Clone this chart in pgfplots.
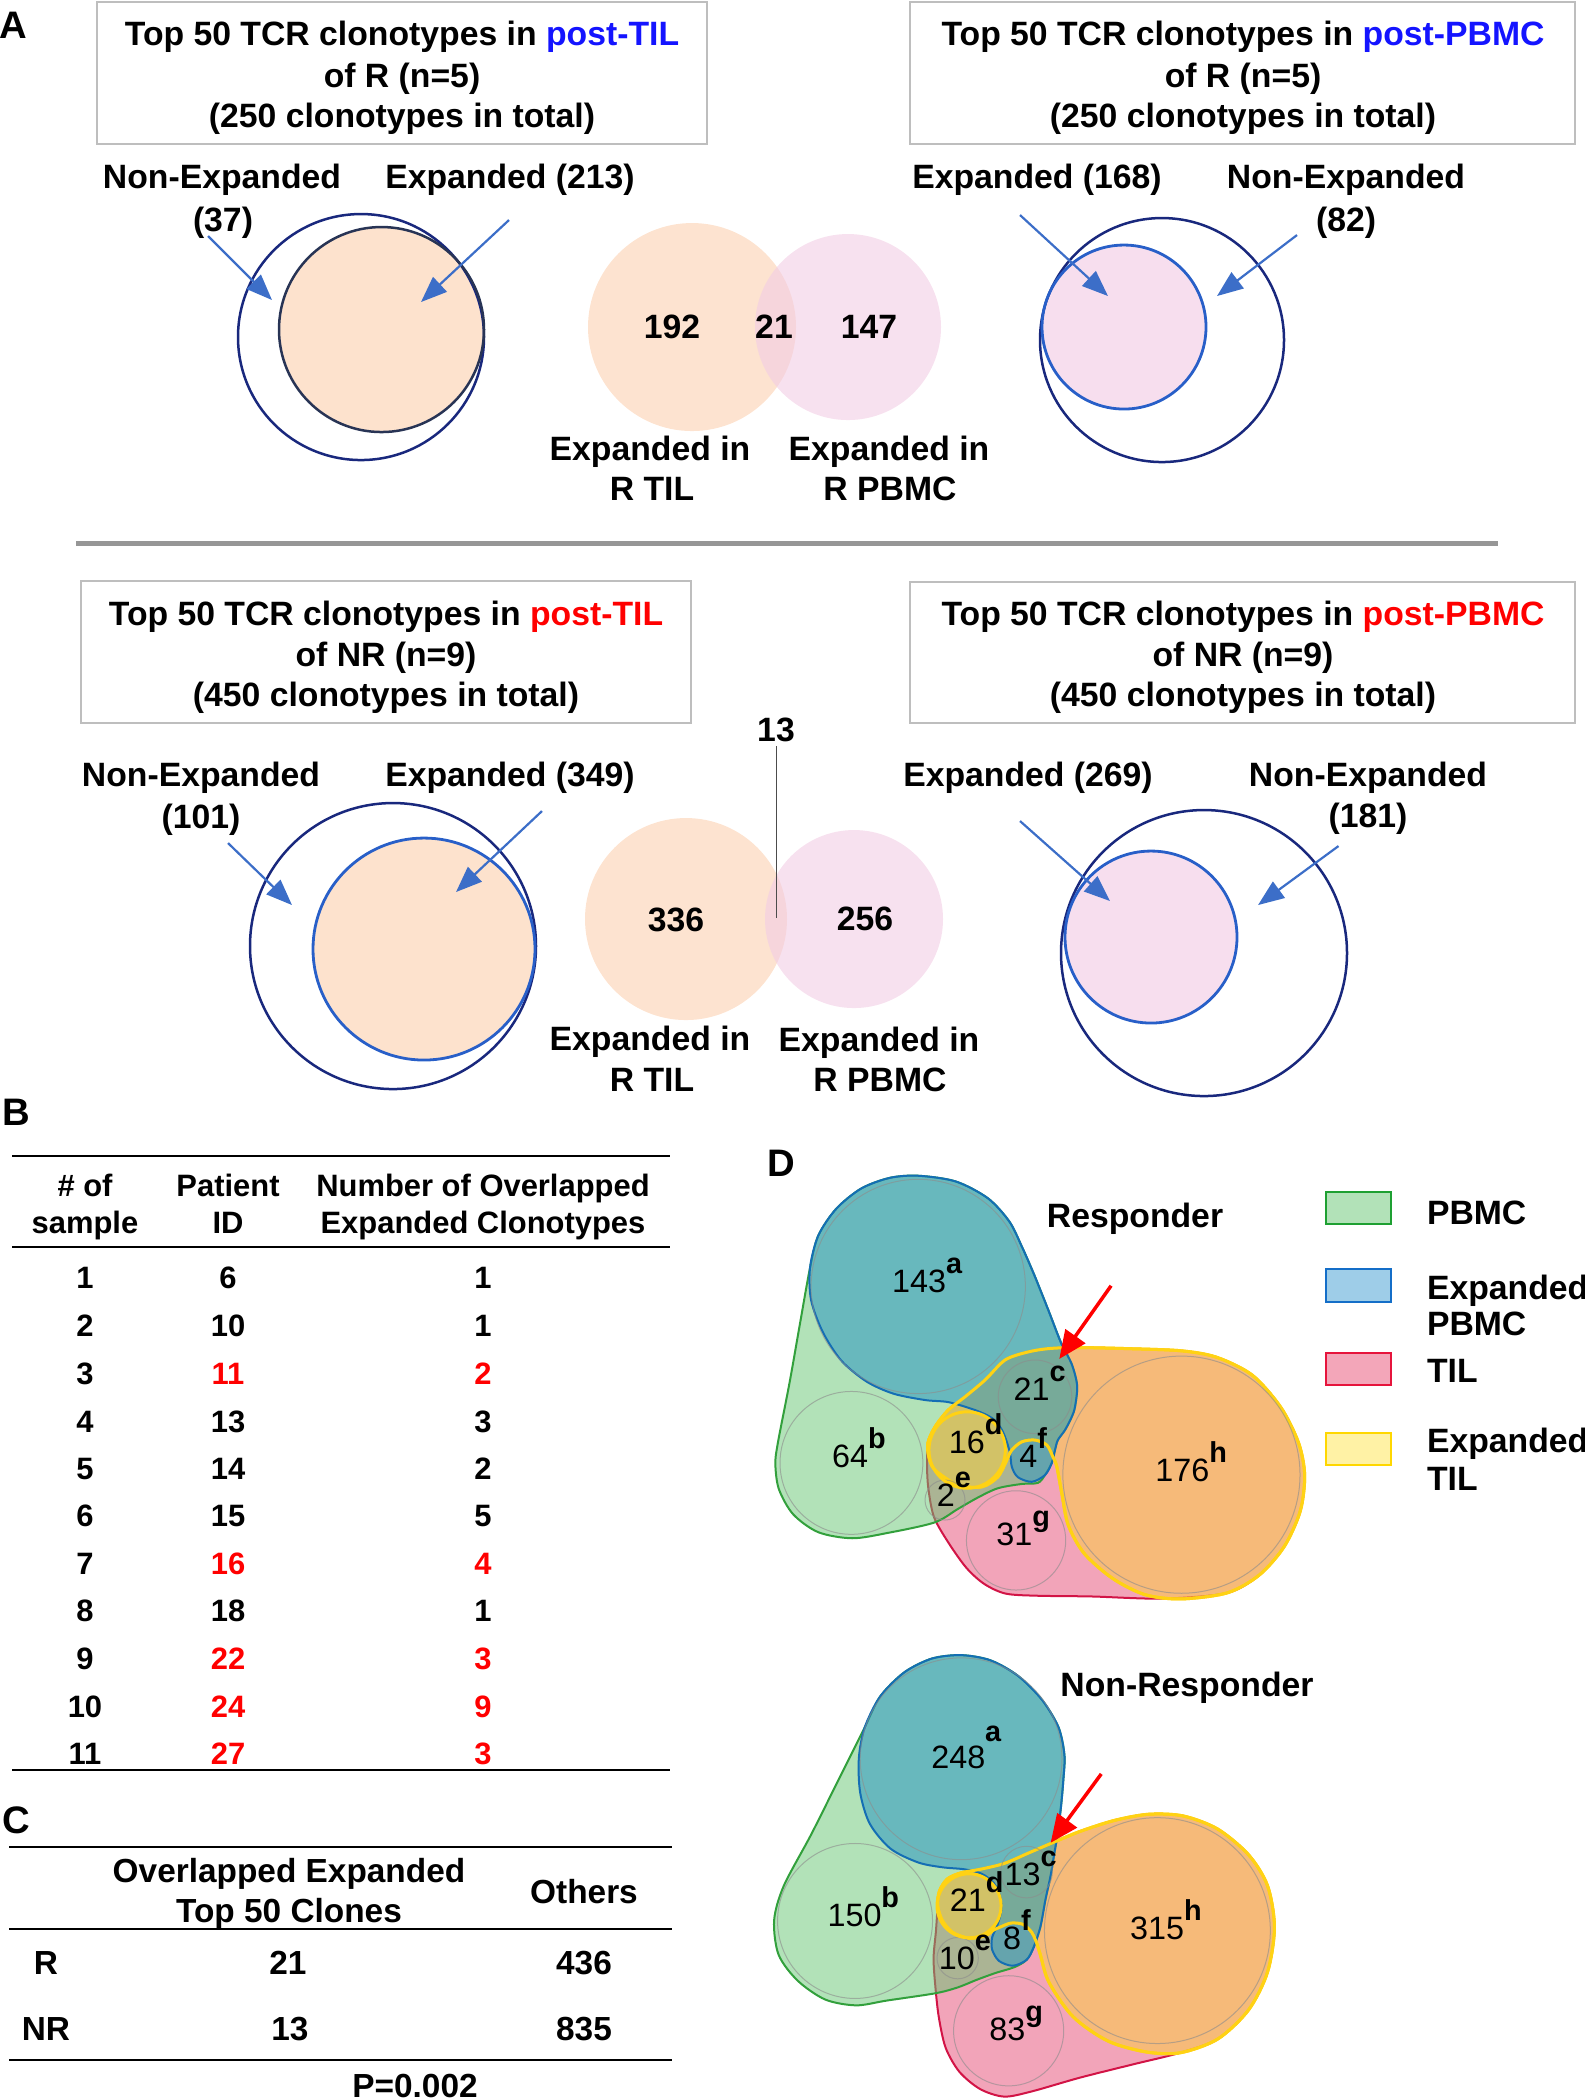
\documentclass[border=0pt]{standalone}
\usepackage{fontspec}
\setmainfont{Liberation Sans}
\usepackage{pgfplots}
\usepackage{pgfplotstable}
\pgfplotsset{compat=1.18}
\usetikzlibrary{arrows.meta}

\definecolor{tblue}{RGB}{20,20,255}
\definecolor{tred}{RGB}{255,0,0}
\definecolor{boxgray}{RGB}{190,190,190}
\definecolor{sepgray}{RGB}{150,150,150}
\definecolor{navy}{RGB}{25,40,125}
\definecolor{midblue}{RGB}{40,95,200}
\definecolor{arrowblue}{RGB}{60,110,200}
\definecolor{innerdark}{RGB}{40,52,85}
\definecolor{peach}{RGB}{253,226,205}
\definecolor{pinkc}{RGB}{247,222,238}
\definecolor{venpeach}{RGB}{253,227,208}
\definecolor{venpink}{RGB}{242,205,228}
% panel D
\definecolor{tilF}{RGB}{242,164,185}
\definecolor{pbmcF}{RGB}{101,197,113}
\definecolor{etilF}{RGB}{250,208,59}
\definecolor{epbF}{RGB}{45,151,195}
\definecolor{strG}{RGB}{50,160,60}
\definecolor{strB}{RGB}{20,110,180}
\definecolor{strR}{RGB}{210,20,70}
\definecolor{strY}{RGB}{255,210,20}
\definecolor{legG}{RGB}{178,226,184}
\definecolor{legGd}{RGB}{30,160,50}
\definecolor{legB}{RGB}{158,205,232}
\definecolor{legBd}{RGB}{20,110,200}
\definecolor{legR}{RGB}{243,166,185}
\definecolor{legRd}{RGB}{230,20,60}
\definecolor{legY}{RGB}{255,242,165}
\definecolor{legYd}{RGB}{255,215,0}

\newcommand{\fA}{\fontsize{9.6pt}{11pt}\selectfont\bfseries}
\newcommand{\fB}{\fontsize{8.8pt}{10pt}\selectfont\bfseries}
\newcommand{\fC}{\fontsize{9.5pt}{10pt}\selectfont\bfseries}
\newcommand{\fL}{\fontsize{10.9pt}{12pt}\selectfont\bfseries}
\newcommand{\fN}{\fontsize{9.2pt}{10pt}\selectfont}
\newcommand{\sps}[1]{\raisebox{5.4pt}{\fontsize{8.2pt}{8pt}\selectfont\bfseries #1}}
\tikzset{t/.style={anchor=base, inner sep=0pt, outer sep=0pt},
         tw/.style={anchor=base west, inner sep=0pt, outer sep=0pt}}

% ---------- Panel D hulls, Responder (crop coordinates, 2.8 units per px) ----------
\pgfplotstableread{
x y
442 820
440 900
445 960
460 1030
500 1100
550 1170
600 1215
660 1242
750 1248
900 1250
1100 1256
1280 1240
1370 1190
1440 1110
1485 1010
1497 910
1480 820
1430 720
1350 630
1250 580
1150 562
1000 556
860 553
780 556
720 566
658 588
602 644
546 691
499 728
462 775
}\pinkR
\pgfplotstableread{
x y
112 330
85 480
55 650
22 820
15 880
25 950
65 1020
135 1070
230 1087
330 1072
460 1043
526 1005
582 973
638 947
705 935
750 932
770 910
789 876
798 840
806 812
826 784
845 747
854 719
860 660
845 600
815 540
780 450
740 350
705 270
670 200
610 135
520 88
415 72
335 78
255 108
185 165
135 240
}\greenR
\pgfplotstableread{
x y
1150 562
1000 556
860 553
780 556
720 566
658 588
602 644
546 691
499 728
462 775
442 820
445 860
462 896
526 938
593 943
638 915
663 868
677 840
705 817
742 812
775 826
792 859
803 887
817 961
835 1050
880 1130
960 1200
1050 1245
1150 1257
1280 1240
1370 1190
1440 1110
1485 1010
1497 910
1480 820
1430 720
1350 630
1250 580
}\yellowR
\pgfplotstableread{
x y
415 72
520 88
610 135
670 200
705 270
740 350
780 450
815 540
845 600
860 660
854 719
845 747
826 784
806 812
798 840
789 876
770 910
733 929
694 916
677 887
672 848
658 803
644 775
621 750
574 728
500 706
434 700
345 682
270 648
200 590
148 510
115 420
112 330
135 240
185 165
255 108
335 78
}\blueR

% ---------- Panel D hulls, Non-Responder (2.904 units per px) ----------
\pgfplotstableread{
x y
487 888
482 960
475 1040
480 1120
490 1210
510 1300
550 1370
610 1420
680 1442
760 1427
900 1387
1060 1347
1190 1315
1300 1275
1390 1190
1445 1080
1465 950
1445 830
1390 740
1300 665
1200 627
1100 622
1000 640
900 672
820 705
750 735
680 765
610 782
555 792
515 810
492 845
}\pinkNR
\pgfplotstableread{
x y
275 370
200 520
120 680
40 830
12 930
25 1030
80 1105
160 1160
250 1177
340 1163
480 1142
545 1125
600 1103
655 1083
710 1066
745 1045
765 1010
785 950
800 870
815 800
825 740
835 680
845 600
852 520
855 450
838 370
790 290
720 220
640 175
555 160
470 170
390 210
320 280
}\greenNR
\pgfplotstableread{
x y
487 888
492 845
515 810
555 792
610 782
680 765
750 735
820 705
900 672
1000 640
1100 622
1200 627
1300 665
1390 740
1445 830
1465 950
1445 1080
1390 1190
1300 1275
1190 1315
1090 1312
980 1280
880 1210
810 1110
785 1030
772 990
760 965
735 942
700 938
668 950
650 958
625 975
578 982
530 965
500 930
}\yellowNR
\pgfplotstableread{
x y
555 160
640 175
720 220
790 290
838 370
855 450
852 520
845 600
835 680
825 740
815 800
800 870
785 950
765 1010
745 1045
705 1062
665 1048
645 1015
645 980
660 945
672 900
668 860
650 822
615 795
565 782
500 776
430 762
350 722
290 650
262 560
258 460
275 370
320 280
390 210
470 170
}\blueNR

\begin{document}
\begin{tikzpicture}
%================ MAIN AXIS (pixel coordinates) ================
\begin{axis}[at={(0,0)}, anchor=north west, x=0.1mm, y=0.1mm, y dir=reverse,
  xmin=0, xmax=1585, ymin=0, ymax=2100, hide axis, clip=false]

% ---- Panel A: R row ----
\node[t,font=\fL] at (axis cs:13,38) {A};
\draw[boxgray, line width=0.2mm] (axis cs:97,2) rectangle (axis cs:707,144);
\node[t,font=\fA] at (axis cs:402,45) {Top 50 TCR clonotypes in \textcolor{tblue}{post-TIL}};
\node[t,font=\fA] at (axis cs:402,87.5) {of R (n=5)};
\node[t,font=\fA] at (axis cs:402,127) {(250 clonotypes in total)};
\draw[boxgray, line width=0.2mm] (axis cs:910,2) rectangle (axis cs:1575,144);
\node[t,font=\fA] at (axis cs:1243,45) {Top 50 TCR clonotypes in \textcolor{tblue}{post-PBMC}};
\node[t,font=\fA] at (axis cs:1243,87.5) {of R (n=5)};
\node[t,font=\fA] at (axis cs:1243,127) {(250 clonotypes in total)};

\node[t,font=\fA] at (axis cs:222,188.7) {Non-Expanded};
\node[t,font=\fA] at (axis cs:223,231.7) {(37)};
\node[t,font=\fA] at (axis cs:510,188.7) {Expanded (213)};
\fill[peach] (axis cs:381.5,329.5) circle[radius=102.5];
\draw[navy, line width=0.25mm] (axis cs:361,337) circle[radius=123];
\draw[innerdark, line width=0.25mm] (axis cs:381.5,329.5) circle[radius=102.5];
\draw[arrowblue, line width=0.22mm, -{Triangle[length=2.6mm,width=2mm]}] (axis cs:208,236) -- (axis cs:272,300);
\draw[arrowblue, line width=0.22mm, -{Triangle[length=2.6mm,width=2mm]}] (axis cs:509,220) -- (axis cs:421,302);

\fill[venpeach] (axis cs:692,327) circle[radius=104];
\fill[venpink, fill opacity=0.6] (axis cs:848,327) circle[radius=93];
\node[t,font=\fA] at (axis cs:672,338.7) {192};
\node[t,font=\fA] at (axis cs:774,338.7) {21};
\node[t,font=\fA] at (axis cs:869,338.7) {147};
\node[t,font=\fA] at (axis cs:650,460.7) {Expanded in};
\node[t,font=\fA] at (axis cs:652,500.7) {R TIL};
\node[t,font=\fA] at (axis cs:889,460.7) {Expanded in};
\node[t,font=\fA] at (axis cs:890,500.7) {R PBMC};

\node[t,font=\fA] at (axis cs:1037,188.7) {Expanded (168)};
\node[t,font=\fA] at (axis cs:1346,188.7) {Non-Expanded};
\node[t,font=\fA] at (axis cs:1346,231.7) {(82)};
\fill[pinkc] (axis cs:1124,327) circle[radius=82];
\draw[navy, line width=0.25mm] (axis cs:1162,340) circle[radius=122];
\draw[midblue, line width=0.28mm] (axis cs:1124,327) circle[radius=82];
\draw[arrowblue, line width=0.22mm, -{Triangle[length=2.6mm,width=2mm]}] (axis cs:1020,215) -- (axis cs:1108,296);
\draw[arrowblue, line width=0.22mm, -{Triangle[length=2.6mm,width=2mm]}] (axis cs:1297,235) -- (axis cs:1217,296);

\draw[sepgray, line width=0.5mm] (axis cs:76,543) -- (axis cs:1498,543);

% ---- Panel A: NR row ----
\draw[boxgray, line width=0.2mm] (axis cs:81,581) rectangle (axis cs:691,723);
\node[t,font=\fA] at (axis cs:386,625) {Top 50 TCR clonotypes in \textcolor{tred}{post-TIL}};
\node[t,font=\fA] at (axis cs:386,666) {of NR (n=9)};
\node[t,font=\fA] at (axis cs:386,706) {(450 clonotypes in total)};
\draw[boxgray, line width=0.2mm] (axis cs:910,582) rectangle (axis cs:1575,723);
\node[t,font=\fA] at (axis cs:1243,625) {Top 50 TCR clonotypes in \textcolor{tred}{post-PBMC}};
\node[t,font=\fA] at (axis cs:1243,666) {of NR (n=9)};
\node[t,font=\fA] at (axis cs:1243,706) {(450 clonotypes in total)};

\node[t,font=\fA] at (axis cs:201,786.7) {Non-Expanded};
\node[t,font=\fA] at (axis cs:201,828.7) {(101)};
\node[t,font=\fA] at (axis cs:510,786.7) {Expanded (349)};
\fill[peach] (axis cs:424,949) circle[radius=111];
\draw[navy, line width=0.25mm] (axis cs:393,946) circle[radius=143];
\draw[midblue, line width=0.28mm] (axis cs:424,949) circle[radius=111];
\draw[arrowblue, line width=0.22mm, -{Triangle[length=2.6mm,width=2mm]}] (axis cs:228,843) -- (axis cs:292,905);
\draw[arrowblue, line width=0.22mm, -{Triangle[length=2.6mm,width=2mm]}] (axis cs:542,811) -- (axis cs:456,892);

\fill[venpeach] (axis cs:686,919) circle[radius=101];
\fill[venpink, fill opacity=0.6] (axis cs:854,919) circle[radius=89];
\node[t,font=\fA] at (axis cs:776,741.7) {13};
\draw[black!70, line width=0.15mm] (axis cs:776.5,746) -- (axis cs:776.5,918);
\node[t,font=\fA] at (axis cs:676,931.7) {336};
\node[t,font=\fA] at (axis cs:865,930.7) {256};
\node[t,font=\fA] at (axis cs:650,1050.7) {Expanded in};
\node[t,font=\fA] at (axis cs:652,1091.7) {R TIL};
\node[t,font=\fA] at (axis cs:879,1051.7) {Expanded in};
\node[t,font=\fA] at (axis cs:880,1091.2) {R PBMC};

\node[t,font=\fA] at (axis cs:1028,786.7) {Expanded (269)};
\node[t,font=\fA] at (axis cs:1368,786.7) {Non-Expanded};
\node[t,font=\fA] at (axis cs:1368,827.7) {(181)};
\fill[pinkc] (axis cs:1151,937) circle[radius=86];
\draw[navy, line width=0.25mm] (axis cs:1204,953) circle[radius=143];
\draw[midblue, line width=0.28mm] (axis cs:1151,937) circle[radius=86];
\draw[arrowblue, line width=0.22mm, -{Triangle[length=2.6mm,width=2mm]}] (axis cs:1020,821) -- (axis cs:1110,901);
\draw[arrowblue, line width=0.22mm, -{Triangle[length=2.6mm,width=2mm]}] (axis cs:1338.5,846) -- (axis cs:1258,905);

% ---- Panel B ----
\node[t,font=\fL] at (axis cs:16,1125) {B};
\draw[line width=0.25mm] (axis cs:12,1156) -- (axis cs:670,1156);
\draw[line width=0.25mm] (axis cs:12,1247) -- (axis cs:670,1247);
\draw[line width=0.25mm] (axis cs:12,1770) -- (axis cs:670,1770);
\node[t,font=\fB] at (axis cs:85,1196) {\# of};
\node[t,font=\fB] at (axis cs:85,1233) {sample};
\node[t,font=\fB] at (axis cs:228,1196) {Patient};
\node[t,font=\fB] at (axis cs:228,1233) {ID};
\node[t,font=\fB] at (axis cs:483,1196) {Number of Overlapped};
\node[t,font=\fB] at (axis cs:483,1233) {Expanded Clonotypes};
% rows: sample, patient ID, number of overlapped expanded clonotypes
\node[t,font=\fB] at (axis cs:85,1288) {1};
\node[t,font=\fB] at (axis cs:228,1288) {6};
\node[t,font=\fB] at (axis cs:483,1288) {1};
\node[t,font=\fB] at (axis cs:85,1336) {2};
\node[t,font=\fB] at (axis cs:228,1336) {10};
\node[t,font=\fB] at (axis cs:483,1336) {1};
\node[t,font=\fB] at (axis cs:85,1384) {3};
\node[t,font=\fB,text=tred] at (axis cs:228,1384) {11};
\node[t,font=\fB,text=tred] at (axis cs:483,1384) {2};
\node[t,font=\fB] at (axis cs:85,1432) {4};
\node[t,font=\fB] at (axis cs:228,1432) {13};
\node[t,font=\fB] at (axis cs:483,1432) {3};
\node[t,font=\fB] at (axis cs:85,1479) {5};
\node[t,font=\fB] at (axis cs:228,1479) {14};
\node[t,font=\fB] at (axis cs:483,1479) {2};
\node[t,font=\fB] at (axis cs:85,1526) {6};
\node[t,font=\fB] at (axis cs:228,1526) {15};
\node[t,font=\fB] at (axis cs:483,1526) {5};
\node[t,font=\fB] at (axis cs:85,1574) {7};
\node[t,font=\fB,text=tred] at (axis cs:228,1574) {16};
\node[t,font=\fB,text=tred] at (axis cs:483,1574) {4};
\node[t,font=\fB] at (axis cs:85,1621) {8};
\node[t,font=\fB] at (axis cs:228,1621) {18};
\node[t,font=\fB] at (axis cs:483,1621) {1};
\node[t,font=\fB] at (axis cs:85,1669) {9};
\node[t,font=\fB,text=tred] at (axis cs:228,1669) {22};
\node[t,font=\fB,text=tred] at (axis cs:483,1669) {3};
\node[t,font=\fB] at (axis cs:85,1717) {10};
\node[t,font=\fB,text=tred] at (axis cs:228,1717) {24};
\node[t,font=\fB,text=tred] at (axis cs:483,1717) {9};
\node[t,font=\fB] at (axis cs:85,1764) {11};
\node[t,font=\fB,text=tred] at (axis cs:228,1764) {27};
\node[t,font=\fB,text=tred] at (axis cs:483,1764) {3};

% ---- Panel C ----
\node[t,font=\fL] at (axis cs:16,1833) {C};
\draw[line width=0.25mm] (axis cs:9,1847) -- (axis cs:672,1847);
\draw[line width=0.25mm] (axis cs:9,1929) -- (axis cs:672,1929);
\draw[line width=0.25mm] (axis cs:9,2060) -- (axis cs:672,2060);
\node[t,font=\fC] at (axis cs:289,1882) {Overlapped Expanded};
\node[t,font=\fC] at (axis cs:289,1922) {Top 50 Clones};
\node[t,font=\fC] at (axis cs:584,1903) {Others};
\node[t,font=\fC] at (axis cs:46,1974) {R};
\node[t,font=\fC] at (axis cs:288,1974) {21};
\node[t,font=\fC] at (axis cs:584,1974) {436};
\node[t,font=\fC] at (axis cs:46,2040) {NR};
\node[t,font=\fC] at (axis cs:290,2040) {13};
\node[t,font=\fC] at (axis cs:584,2040) {835};
\node[t,font=\fC] at (axis cs:415,2097) {P=0.002};

% ---- Panel D: labels and legend ----
\node[t,font=\fL] at (axis cs:781,1176) {D};
\node[t,font=\fA] at (axis cs:1135,1227) {Responder};
\node[t,font=\fA] at (axis cs:1187,1696) {Non-Responder};
\filldraw[fill=legG, draw=legGd, line width=0.25mm] (axis cs:1326,1192) rectangle (axis cs:1391,1224);
\filldraw[fill=legB, draw=legBd, line width=0.25mm] (axis cs:1326,1269) rectangle (axis cs:1391,1302);
\filldraw[fill=legR, draw=legRd, line width=0.25mm] (axis cs:1326,1353) rectangle (axis cs:1391,1385);
\filldraw[fill=legY, draw=legYd, line width=0.25mm] (axis cs:1326,1433) rectangle (axis cs:1391,1465);
\node[tw,font=\fA] at (axis cs:1427,1224) {PBMC};
\node[tw,font=\fA] at (axis cs:1427,1299) {Expanded};
\node[tw,font=\fA] at (axis cs:1427,1335) {PBMC};
\node[tw,font=\fA] at (axis cs:1427,1382) {TIL};
\node[tw,font=\fA] at (axis cs:1427,1452) {Expanded};
\node[tw,font=\fA] at (axis cs:1427,1490) {TIL};
\end{axis}

%================ Panel D: Responder ================
\begin{axis}[at={(77mm,-115mm)}, anchor=north west, x=0.0357143mm, y=0.0357143mm, y dir=reverse,
  xmin=0, xmax=1568, ymin=0, ymax=1568, hide axis, clip=false]
\addplot[fill=tilF, draw=strR, line width=0.2mm, smooth cycle] table {\pinkR};
\addplot[fill=pbmcF, fill opacity=0.5, draw=strG, line width=0.2mm, smooth cycle] table {\greenR};
\addplot[fill=etilF, fill opacity=0.5, draw=strY, line width=0.3mm, smooth cycle] table {\yellowR};
\addplot[fill=epbF, fill opacity=0.55, draw=strB, line width=0.2mm, smooth cycle] table {\blueR};
\addplot[fill=none, draw=strY, line width=0.3mm, smooth cycle] table {\yellowR};
\draw[black!45, line width=0.1mm, opacity=0.6] (axis cs:415,382) circle[radius=300];
\draw[black!45, line width=0.1mm, opacity=0.6] (axis cs:228,876) circle[radius=200];
\draw[black!45, line width=0.1mm, opacity=0.6] (axis cs:689,1093) circle[radius=139];
\draw[black!45, line width=0.1mm, opacity=0.6] (axis cs:1152,909) circle[radius=332];
\draw[black!45, line width=0.1mm, opacity=0.6] (axis cs:742,691) circle[radius=103];
\draw[black!45, line width=0.1mm, opacity=0.6] (axis cs:490,980) circle[radius=56];
\draw[strY, line width=0.3mm] (axis cs:552,840) circle[radius=107];
\draw[red, line width=0.35mm, -{Triangle[length=2.8mm,width=2.4mm]}] (axis cs:955,380) -- (axis cs:810,585);
\node[t,font=\fN] at (axis cs:440,400) {143\sps{a}};
\node[t,font=\fN] at (axis cs:249,890) {64\sps{b}};
\node[t,font=\fN] at (axis cs:755,700) {21\sps{c}};
\node[t,font=\fN] at (axis cs:576,850) {16\sps{d}};
\node[t,font=\fN] at (axis cs:737,888) {4\sps{f}};
\node[t,font=\fN] at (axis cs:515,998) {2\sps{e}};
\node[t,font=\fN] at (axis cs:709,1108) {31\sps{g}};
\node[t,font=\fN] at (axis cs:1179,928) {176\sps{h}};
\end{axis}

%================ Panel D: Non-Responder ================
\begin{axis}[at={(77mm,-160mm)}, anchor=north west, x=0.0344353mm, y=0.0344353mm, y dir=reverse,
  xmin=0, xmax=1568, ymin=0, ymax=1568, hide axis, clip=false]
\addplot[fill=tilF, draw=strR, line width=0.2mm, smooth cycle] table {\pinkNR};
\addplot[fill=pbmcF, fill opacity=0.5, draw=strG, line width=0.2mm, smooth cycle] table {\greenNR};
\addplot[fill=etilF, fill opacity=0.5, draw=strY, line width=0.3mm, smooth cycle] table {\yellowNR};
\addplot[fill=epbF, fill opacity=0.55, draw=strB, line width=0.2mm, smooth cycle] table {\blueNR};
\addplot[fill=none, draw=strY, line width=0.3mm, smooth cycle] table {\yellowNR};
\draw[black!45, line width=0.1mm, opacity=0.6] (axis cs:555,461) circle[radius=293];
\draw[black!45, line width=0.1mm, opacity=0.6] (axis cs:247,932) circle[radius=225];
\draw[black!45, line width=0.1mm, opacity=0.6] (axis cs:693,1251) circle[radius=160];
\draw[black!45, line width=0.1mm, opacity=0.6] (axis cs:1125,960) circle[radius=328];
\draw[black!45, line width=0.1mm, opacity=0.6] (axis cs:745,790) circle[radius=75];
\draw[black!45, line width=0.1mm, opacity=0.6] (axis cs:545,1040) circle[radius=60];
\draw[strY, line width=0.3mm] (axis cs:578,888) circle[radius=93];
\draw[red, line width=0.35mm, -{Triangle[length=2.8mm,width=2.4mm]}] (axis cs:962,505) -- (axis cs:815,705);
\node[t,font=\fN] at (axis cs:570,488) {248\raisebox{7.5pt}{\fontsize{8.2pt}{8pt}\selectfont\bfseries a}};
\node[t,font=\fN] at (axis cs:271,948) {150\sps{b}};
\node[t,font=\fN] at (axis cs:757,828) {13\sps{c}};
\node[t,font=\fN] at (axis cs:600,905) {21\sps{d}};
\node[t,font=\fN] at (axis cs:717,1015) {8\sps{f}};
\node[t,font=\fN] at (axis cs:566,1072) {10\sps{e}};
\node[t,font=\fN] at (axis cs:715,1280) {83\sps{g}};
\node[t,font=\fN] at (axis cs:1150,985) {315\sps{h}};
\end{axis}
\pgfresetboundingbox
\path (0,0) rectangle (158.5mm,-210mm);
\end{tikzpicture}
\end{document}
